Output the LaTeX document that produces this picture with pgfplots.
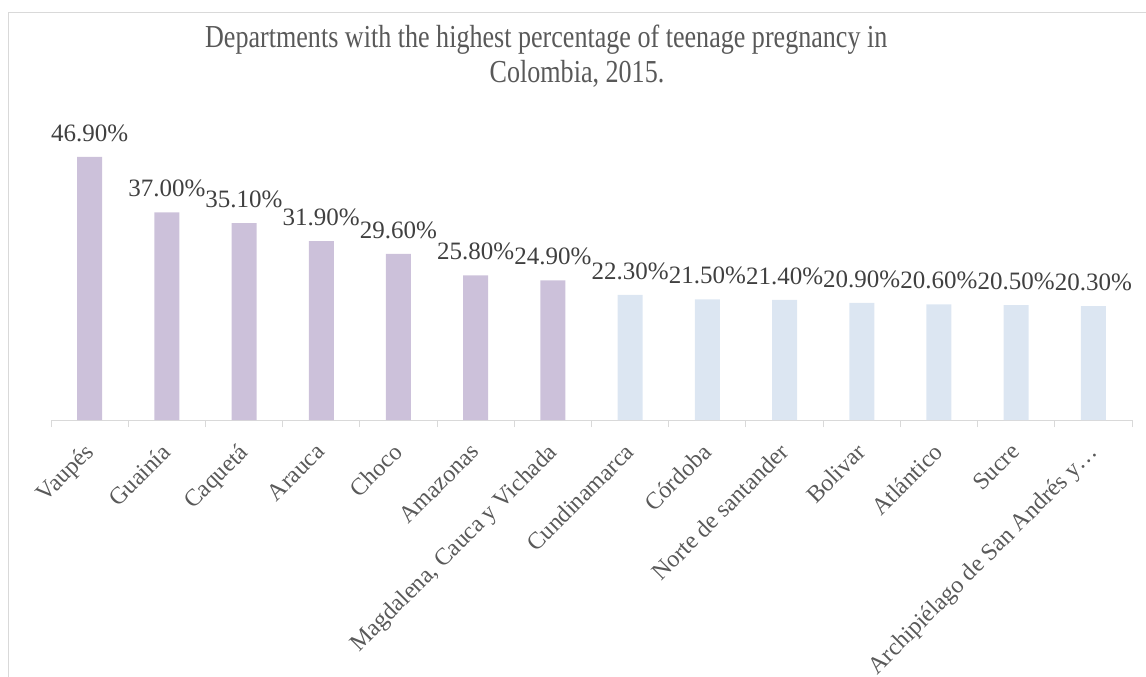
\documentclass[border=0pt]{standalone}
\usepackage{pgfplots}
\pgfplotsset{compat=1.18}
\usepackage{fontspec}
\setmainfont{Liberation Serif}
\definecolor{barpurple}{HTML}{CCC1DA}
\definecolor{barblue}{HTML}{DCE6F2}
\definecolor{framegray}{HTML}{D9D9D9}
\definecolor{labelgray}{HTML}{404040}
\definecolor{ticklabelgray}{HTML}{595959}
\definecolor{titlegray}{HTML}{595959}
\begin{document}
\begin{tikzpicture}[x=1pt,y=1pt]
\useasboundingbox (0,0) rectangle (1146,-677);
\draw[framegray, line width=1pt] (8.5,-677) -- (8.5,-12.5) -- (1146,-12.5);
\node[anchor=base west, inner sep=0, font=\fontsize{32}{38}\selectfont, text=titlegray, xscale=0.815] at (205,-48) {Departments with the highest percentage of teenage pregnancy in};
\node[anchor=base, inner sep=0, font=\fontsize{32}{38}\selectfont, text=titlegray, xscale=0.815] at (577,-83) {Colombia, 2015.};
\begin{axis}[
  at={(51pt,-420pt)}, anchor=south west,
  scale only axis, width=1081pt, height=280.5pt,
  xmin=-0.5, xmax=13.5, ymin=0, ymax=50,
  ybar, bar width=25pt, bar shift=0pt,
  axis y line=none, axis x line*=bottom,
  x axis line style={draw=framegray, line width=1pt, -},
  xtick={0,...,13},
  xticklabels={Vaupés, Guainía, Caquetá, Arauca, Choco, Amazonas, {Magdalena, Cauca y Vichada}, Cundinamarca, Córdoba, Norte de santander, Bolivar, Atlántico, Sucre, {Archipiélago de San Andrés y…}},
  major tick length=0pt,
  minor xtick={-0.5,0.5,...,13.5},
  minor tick length=7pt,
  tick align=outside,
  every tick/.style={draw=framegray, line width=1pt},
  xticklabel style={rotate=45, anchor=north east, inner sep=0pt, font=\fontsize{24}{28}\selectfont, text=ticklabelgray, xshift=-20pt, yshift=-10.7pt},
  ytick=\empty,
  clip=false,
  nodes near coords={\pgfmathprintnumber[fixed,fixed zerofill,precision=2,assume math mode=true]{\pgfplotspointmeta}\%},
  every node near coord/.append style={anchor=south, inner sep=0pt, yshift=15pt, font=\fontsize{25}{30}\selectfont, text=labelgray},
]
\addplot[fill=barpurple, draw=none] coordinates {(0,46.9) (1,37) (2,35.1) (3,31.9) (4,29.6) (5,25.8) (6,24.9)};
\addplot[fill=barblue, draw=none] coordinates {(7,22.3) (8,21.5) (9,21.4) (10,20.9) (11,20.6) (12,20.5) (13,20.3)};
\end{axis}
\end{tikzpicture}
\end{document}
